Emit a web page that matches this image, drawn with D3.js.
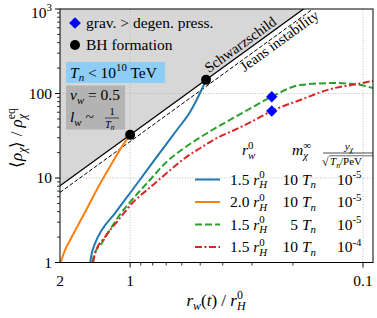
<!DOCTYPE html>
<html>
<head>
<meta charset="utf-8">
<script src="https://cdn.jsdelivr.net/npm/d3@7"></script>
<style>
body{margin:0;background:#fff}
text{font-family:"Liberation Serif","Times New Roman",serif;fill:#000}
</style>
</head>
<body>
<div id="chart"></div>
<script>
// values: r_w(t)/r_H^0 and <rho>/rho_eq
var blueR    = [1.485, 1.456, 1.413, 1.323, 1.160, 1.0, 0.906, 0.807, 0.708, 0.630, 0.553, 0.5105, 0.472]
var blueRho  = [1.0, 1.33, 1.70, 2.42, 3.85, 6.65, 9.6, 14.8, 24.0, 37.0, 60.4, 90.9, 145]
var orangeR   = [1.988, 1.901, 1.809, 1.560, 1.368, 1.198, 1.085, 1.0]
var orangeRho = [1.0, 1.41, 1.85, 3.96, 7.89, 14.9, 23.5, 32.4]
var greenR   = [1.456, 1.427, 1.323, 1.123, 0.983, 0.835, 0.696, 0.581, 0.501, 0.432, 0.360, 0.300, 0.2465, 0.186, 0.1345, 0.1064, 0.0906]
var greenRho = [1.0, 1.23, 1.70, 3.48, 5.49, 9.04, 15.6, 23.0, 30.2, 38.7, 51.3, 68.3, 91.6, 126, 133, 128, 116]
var redR   = [1.441, 1.413, 1.280, 1.123, 0.983, 0.807, 0.685, 0.581, 0.501, 0.432, 0.360, 0.300, 0.2465, 0.186, 0.1345, 0.1064, 0.0906]
var redRho = [1.0, 1.29, 2.02, 3.18, 4.99, 8.04, 11.9, 17.25, 22.5, 28.9, 36.5, 46.6, 62.1, 83.8, 115, 129, 141]

// Schwarzschild and Jeans lines (end points)
var schwarzR = [2, 0.18],   schwarzRho = [8.1, 1000]
var jeansR   = [2, 0.1643], jeansRho   = [6.75, 1000]

// markers
var bhR  = [1.0, 0.472], bhRho  = [32.4, 145]
var degR = [0.2465, 0.2465], degRho = [91.6, 62.1]

// ticks
var xMajor = [1, 0.1]
var xMinor = [0.9, 0.8, 0.7, 0.6, 0.5, 0.4, 0.3, 0.2]
var xLabels = [[2, "2"], [1, "1"], [0.1, "0.1"]]
var yMajor = [1, 10, 100, 1000]
var yLabels = ["1", "10", "100", "10"]

// legend table
var legRw = ["1.5", "2.0", "1.5", "1.5"]
var legM  = ["10", "10", "5", "10"]
var legY  = ["-5", "-5", "-5", "-4"]

var series = [
  {r: blueR,   rho: blueRho,   color: "#1f77b4", dash: null},
  {r: orangeR, rho: orangeRho, color: "#ff7f0e", dash: null},
  {r: greenR,  rho: greenRho,  color: "#2ca02c", dash: "7,3"},
  {r: redR,    rho: redRho,    color: "#d62728", dash: "7,2.5,2,2.5"}
]

var width = 377, height = 318
var pLeft = 60, pRight = 373, pTop = 9, pBottom = 262.5

var x = d3.scaleLog().domain([2, 0.0906]).range([pLeft, pRight])
var y = d3.scaleLog().domain([1, 1000]).range([pBottom, pTop])

var svg = d3.select("#chart").append("svg")
  .attr("width", width)
  .attr("height", height)

svg.append("clipPath").attr("id", "plotClip")
  .append("rect")
  .attr("x", pLeft).attr("y", pTop)
  .attr("width", pRight-pLeft).attr("height", pBottom-pTop)

var plot = svg.append("g").attr("clip-path", "url(#plotClip)")

// grey region above Schwarzschild line
plot.append("polygon")
  .attr("points", [
    [x(schwarzR[0]), y(schwarzRho[0])],
    [x(schwarzR[1]), y(schwarzRho[1])],
    [x(schwarzR[0]), y(1000)]
  ].map(function(p){ return p.join(",") }).join(" "))
  .style("fill", "#d7d7d7")

// dotted grid, major only
xMajor.forEach(function(v){
  plot.append("line")
    .attr("x1", x(v)).attr("x2", x(v)).attr("y1", pTop).attr("y2", pBottom)
    .style("stroke", "#b0b0b0").style("stroke-width", 0.8).style("stroke-dasharray", "1,1.6")
})
;[10, 100].forEach(function(v){
  plot.append("line")
    .attr("x1", pLeft).attr("x2", pRight).attr("y1", y(v)).attr("y2", y(v))
    .style("stroke", "#b0b0b0").style("stroke-width", 0.8).style("stroke-dasharray", "1,1.6")
})

// Schwarzschild / Jeans lines
plot.append("line")
  .attr("x1", x(schwarzR[0])).attr("y1", y(schwarzRho[0]))
  .attr("x2", x(schwarzR[1])).attr("y2", y(schwarzRho[1]))
  .style("stroke", "#000").style("stroke-width", 1.3)
plot.append("line")
  .attr("x1", x(jeansR[0])).attr("y1", y(jeansRho[0]))
  .attr("x2", x(jeansR[1])).attr("y2", y(jeansRho[1]))
  .style("stroke", "#000").style("stroke-width", 1).style("stroke-dasharray", "4,2")

// curves
var line = d3.line()
  .x(function(d){ return x(d[0]) })
  .y(function(d){ return y(d[1]) })
  .curve(d3.curveMonotoneX)

series.forEach(function(s){
  var pts = s.r.map(function(r, i){ return [r, s.rho[i]] })
  var p = plot.append("path")
    .attr("d", line(pts))
    .style("fill", "none")
    .style("stroke", s.color)
    .style("stroke-width", 2)
  if (s.dash) p.style("stroke-dasharray", s.dash)
})

// BH formation dots
bhR.forEach(function(r, i){
  plot.append("circle")
    .attr("cx", x(r)).attr("cy", y(bhRho[i])).attr("r", 5)
    .style("fill", "#000")
})

// diamonds
function diamond(g, cx, cy, s){
  g.append("rect")
    .attr("x", -s/2).attr("y", -s/2).attr("width", s).attr("height", s)
    .attr("transform", `translate(${cx} ${cy}) rotate(45)`)
    .style("fill", "#0000ff")
}
degR.forEach(function(r, i){ diamond(plot, x(r), y(degRho[i]), 8) })

// frame
svg.append("rect")
  .attr("x", pLeft).attr("y", pTop)
  .attr("width", pRight-pLeft).attr("height", pBottom-pTop)
  .style("fill", "none").style("stroke", "#000").style("stroke-width", 1)

// ticks
var ax = svg.append("g")
xMajor.forEach(function(v){
  ax.append("line").attr("x1", x(v)).attr("x2", x(v)).attr("y1", pBottom).attr("y2", pBottom+5)
    .style("stroke", "#000").style("stroke-width", 1)
})
xMinor.forEach(function(v){
  ax.append("line").attr("x1", x(v)).attr("x2", x(v)).attr("y1", pBottom).attr("y2", pBottom+3)
    .style("stroke", "#000").style("stroke-width", 0.8)
})
xLabels.forEach(function(l){
  ax.append("text").attr("x", x(l[0])).attr("y", pBottom+23)
    .attr("text-anchor", "middle").style("font-size", "15.5px").text(l[1])
})
yMajor.forEach(function(v, i){
  ax.append("line").attr("x1", pLeft-5).attr("x2", pLeft).attr("y1", y(v)).attr("y2", y(v))
    .style("stroke", "#000").style("stroke-width", 1)
  if (i < 3){
    for (var k=2; k<10; k++){
      ax.append("line").attr("x1", pLeft-3).attr("x2", pLeft).attr("y1", y(v*k)).attr("y2", y(v*k))
        .style("stroke", "#000").style("stroke-width", 0.8)
    }
  }
})
yLabels.forEach(function(l, i){
  var t = ax.append("text").attr("text-anchor", "end").style("font-size", "15.5px")
  if (i < 3){
    t.attr("x", pLeft-8).attr("y", y(yMajor[i])+5).text(l)
  } else {
    t.attr("x", pLeft-8).attr("y", y(yMajor[i])+8.5)
    t.append("tspan").text(l)
    t.append("tspan").text("3").attr("dy", -6.5).style("font-size", "11px")
  }
})

// text with sub/superscripts
// kind: n roman, b sub, p sup, q sup stacked over previous sub; trailing "i" = italic
function mathText(g, tx, ty, parts, fs, anchor){
  var t = g.append("text").attr("x", tx).attr("y", ty)
    .style("font-size", fs+"px").attr("text-anchor", anchor || "start")
  var cur = 0, lastLen = 0
  parts.forEach(function(p){
    var k = p[1] || "n"
    var off = 0, size = fs, dx = 0
    if (k[0] == "b"){ off = 0.25*fs; size = 0.7*fs }
    if (k[0] == "p"){ off = -0.4*fs; size = 0.7*fs }
    if (k[0] == "q"){ off = -0.4*fs; size = 0.7*fs; dx = -lastLen }
    var ts = t.append("tspan").text(p[0]).attr("dy", off-cur).style("font-size", size+"px")
    if (dx) ts.attr("dx", dx)
    if (k.indexOf("i") > 0 || k == "i") ts.style("font-style", "italic")
    cur = off
    lastLen = ts.node().getComputedTextLength()
  })
  return t
}

// top-left legend
diamond(svg, 75, 23, 8.3)
svg.append("text").attr("x", 86).attr("y", 28).style("font-size", "15.5px").text("grav. > degen. press.")
svg.append("circle").attr("cx", 75).attr("cy", 45).attr("r", 5).style("fill", "#000")
svg.append("text").attr("x", 86).attr("y", 50).style("font-size", "15.5px").text("BH formation")

svg.append("rect").attr("x", 66).attr("y", 62).attr("width", 99).attr("height", 21)
  .style("fill", "#8ecdf5")
mathText(svg, 70, 77.5, [["T", "i"], ["n", "bi"], [" < 10", "n"], ["10", "p"], [" TeV", "n"]], 15.5)

svg.append("rect").attr("x", 66).attr("y", 85.5).attr("width", 59).attr("height", 44)
  .style("fill", "#b3b3b3")
mathText(svg, 70, 100, [["v", "i"], ["w", "bi"], [" = 0.5", "n"]], 15.5)
mathText(svg, 70, 122, [["l", "i"], ["w", "bi"], [" ~", "n"]], 15.5)
svg.append("text").attr("x", 112).attr("y", 115).attr("text-anchor", "middle").style("font-size", "10.5px").text("1")
svg.append("line").attr("x1", 105).attr("x2", 119).attr("y1", 118).attr("y2", 118)
  .style("stroke", "#000").style("stroke-width", 0.6)
mathText(svg, 105, 127.5, [["T", "i"], ["n", "bi"]], 10.5)

// Schwarzschild / Jeans labels, rotated along the lines
var ang = Math.atan2(y(100)-y(10), x(Math.sqrt(0.1))-x(1)) * 180/Math.PI
var sx = 211, sr = x.invert(sx), sy = y(8.1*4/(sr*sr))
svg.append("text").attr("transform", `translate(${sx} ${sy}) rotate(${ang})`)
  .attr("dy", -3.5).style("font-size", "14.5px").text("Schwarzschild")
var jx = 238, jr = x.invert(jx), jy = y(6.75*4/(jr*jr))
svg.append("text").attr("transform", `translate(${jx} ${jy}) rotate(${ang})`)
  .attr("dy", 11).style("font-size", "14.5px").text("Jeans instability")

// bottom-right legend
mathText(svg, 242, 155, [["r", "i"], ["w", "bi"], ["0", "q"]], 15.5)
mathText(svg, 292, 155, [["m", "i"], ["χ", "bi"], ["∞", "q"]], 15.5)
mathText(svg, 349, 149.5, [["y", "i"], ["χ", "bi"]], 11, "middle")
svg.append("line").attr("x1", 323).attr("x2", 373).attr("y1", 153).attr("y2", 153)
  .style("stroke", "#000").style("stroke-width", 0.7)
svg.append("text").attr("x", 322).attr("y", 165.5).style("font-size", "12px").text("√")
svg.append("line").attr("x1", 329).attr("x2", 373).attr("y1", 155.8).attr("y2", 155.8)
  .style("stroke", "#000").style("stroke-width", 0.6)
mathText(svg, 330, 165, [["T", "i"], ["n", "bi"], ["/PeV", "n"]], 11)

var rowY = [179.5, 202, 224.5, 247]
series.forEach(function(s, i){
  var ry = rowY[i]
  var l = svg.append("line").attr("x1", 195).attr("x2", 220).attr("y1", ry).attr("y2", ry)
    .style("stroke", s.color).style("stroke-width", 2)
  if (s.dash) l.style("stroke-dasharray", s.dash)
  mathText(svg, 230, ry+5, [[legRw[i]+" ", "n"], ["r", "i"], ["H", "bi"], ["0", "q"]], 15.5)
  mathText(svg, 316, ry+5, [[legM[i]+" ", "n"], ["T", "i"], ["n", "bi"]], 15.5, "end")
  mathText(svg, 337, ry+5, [["10", "n"], [legY[i], "p"]], 15.5)
})

// axis labels
var yl = svg.append("g").attr("transform", "translate(22 138) rotate(-90)")
mathText(yl, 0, 0, [["⟨", "n"], ["ρ", "i"], ["χ", "bi"], ["⟩ / ", "n"], ["ρ", "i"], ["χ", "bi"], ["eq", "q"]], 17, "middle")
mathText(svg, 216, 306, [["r", "i"], ["w", "bi"], ["(", "n"], ["t", "i"], [") / ", "n"], ["r", "i"], ["H", "bi"], ["0", "q"]], 17, "middle")
</script>
</body>
</html>
